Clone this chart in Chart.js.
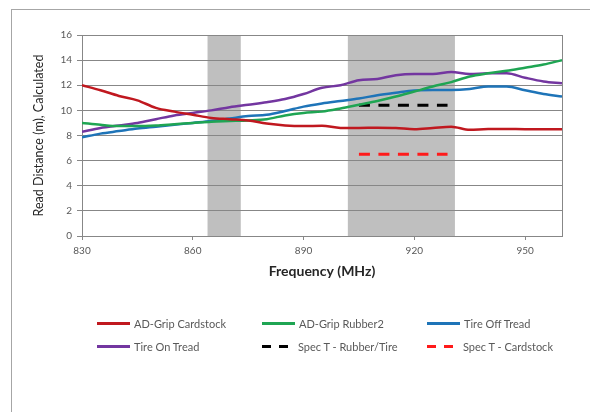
<!DOCTYPE html>
<html>
<head>
<meta charset="utf-8">
<script src="https://cdn.jsdelivr.net/npm/chart.js@4.4.0/dist/chart.umd.min.js"></script>
<style>
  html, body { margin: 0; padding: 0; background: #fff; }
  #wrap { position: relative; width: 590px; height: 412px; overflow: hidden; font-family: Lato, sans-serif; }
  #frame { position: absolute; left: 11px; top: 9px; width: 700px; height: 500px; border-left: 1px solid #a6a6a6; border-top: 1px solid #a6a6a6; }
  #chart { position: absolute; left: 0; top: 0; }
  #legend { position: absolute; left: 97px; top: 315px; display: grid; grid-template-columns: 165px 165px 165px; row-gap: 7px; }
  .item { display: flex; align-items: center; height: 16px; font-size: 11px; color: #595959; }
  .sw { position: relative; width: 33px; height: 3px; margin-right: 4px; }
  .sw div { position: absolute; top: 0; height: 3px; }
</style>
</head>
<body>
<div id="wrap">
  <div id="frame"></div>
  <canvas id="chart" width="590" height="412"></canvas>
  <div id="legend"></div>
</div>
<script>
// frequencies (MHz)
const freq = [830, 835, 840, 845, 850, 855, 860, 865, 870, 875, 880, 885, 890, 895, 900,
              905, 910, 915, 920, 925, 930, 935, 940, 945, 950, 955, 960];

const cardstock = [12.0, 11.6, 11.15, 10.8, 10.2, 9.9, 9.65, 9.4, 9.3, 9.2, 8.95, 8.8, 8.75, 8.78, 8.6,
                   8.6, 8.62, 8.6, 8.5, 8.6, 8.7, 8.45, 8.52, 8.52, 8.5, 8.5, 8.5];
const rubber2 = [9.0, 8.85, 8.75, 8.75, 8.8, 8.9, 9.0, 9.1, 9.15, 9.2, 9.3, 9.6, 9.8, 9.9, 10.15,
                 10.45, 10.75, 11.1, 11.5, 11.9, 12.25, 12.7, 12.95, 13.15, 13.4, 13.65, 14.0];
const tireOff = [7.85, 8.15, 8.35, 8.55, 8.7, 8.85, 9.0, 9.15, 9.35, 9.55, 9.65, 9.95, 10.3, 10.55, 10.75,
                 10.95, 11.2, 11.4, 11.58, 11.62, 11.62, 11.7, 11.9, 11.9, 11.6, 11.3, 11.1];
const tireOn = [8.3, 8.6, 8.8, 9.0, 9.3, 9.6, 9.8, 10.0, 10.25, 10.45, 10.65, 10.9, 11.3, 11.8, 12.0,
                12.4, 12.5, 12.8, 12.9, 12.9, 13.05, 12.9, 12.95, 12.95, 12.6, 12.3, 12.15];

// spec lines
const specFreq = [905, 929];
const specRubber = [10.4, 10.4];
const specCard = [6.5, 6.5];

// shaded frequency bands
const bandStart = [864, 902];
const bandEnd = [873, 931];

const xTicks = [830, 860, 890, 920, 950];

const pts = (xs, ys) => xs.map((x, i) => ({ x: x, y: ys[i] }));

const series = [
    { label: 'AD-Grip Cardstock', data: pts(freq, cardstock), color: '#c0181f' },
    { label: 'AD-Grip Rubber2', data: pts(freq, rubber2), color: '#1fa553' },
    { label: 'Tire Off Tread', data: pts(freq, tireOff), color: '#1e74b8' },
    { label: 'Tire On Tread', data: pts(freq, tireOn), color: '#7336a0' },
    { label: 'Spec T - Rubber/Tire', data: pts(specFreq, specRubber), color: '#000000', dash: true },
    { label: 'Spec T - Cardstock', data: pts(specFreq, specCard), color: '#ff1a1a', dash: true },
];

const bandsPlugin = {
    id: 'bands',
    beforeDraw(chart) {
        const { ctx, chartArea, scales } = chart;
        ctx.save();
        ctx.fillStyle = '#bfbfbf';
        for (let i = 0; i < bandStart.length; i++) {
            const x1 = scales.x.getPixelForValue(bandStart[i]);
            const x2 = scales.x.getPixelForValue(bandEnd[i]);
            ctx.fillRect(x1, chartArea.top, x2 - x1, chartArea.bottom - chartArea.top);
        }
        ctx.restore();
    },
    afterDatasetsDraw(chart) {
        // right edge of the plot box
        const { ctx, chartArea } = chart;
        ctx.save();
        ctx.strokeStyle = '#878787';
        ctx.lineWidth = 1;
        ctx.beginPath();
        ctx.moveTo(Math.round(chartArea.right) + 0.5, chartArea.top);
        ctx.lineTo(Math.round(chartArea.right) + 0.5, chartArea.bottom);
        ctx.stroke();
        ctx.restore();
    }
};

Chart.defaults.font.family = 'Lato, sans-serif';

const chart = new Chart(document.getElementById('chart'), {
    type: 'line',
    data: {
        datasets: series.map((s) => ({
            label: s.label,
            data: s.data,
            borderColor: s.color,
            backgroundColor: s.color,
            borderWidth: s.dash ? 3 : 2.5,
            borderDash: s.dash ? [11, 8.5] : [],
            pointRadius: 0,
            cubicInterpolationMode: 'monotone',
            fill: false,
        })),
    },
    options: {
        responsive: false,
        animation: false,
        layout: { padding: { left: 24, top: 35, right: 28, bottom: 131 } },
        plugins: { legend: { display: false }, tooltip: { enabled: false } },
        scales: {
            x: {
                type: 'linear',
                min: 830,
                max: 960,
                afterBuildTicks: (axis) => { axis.ticks = xTicks.map((v) => ({ value: v })); },
                afterFit: (axis) => { axis.height = 45; },
                grid: { drawOnChartArea: false, drawTicks: true, tickLength: 4, color: '#878787' },
                border: { color: '#878787' },
                ticks: { font: { size: 10 }, color: '#595959', padding: 5, maxRotation: 0 },
                title: { display: true, text: 'Frequency (MHz)', font: { size: 14, weight: 'bold' }, color: '#262626', padding: { bottom: 1 } },
            },
            y: {
                min: 0,
                max: 16,
                ticks: { stepSize: 2, font: { size: 10 }, color: '#595959', padding: 5 },
                afterFit: (axis) => { axis.width = 58; },
                grid: { color: '#878787', tickLength: 5 },
                border: { color: '#878787' },
                title: { display: true, text: 'Read Distance (m), Calculated', font: { size: 12.5 }, color: '#262626', padding: { top: 7 } },
            },
        },
    },
    plugins: [bandsPlugin],
});

// legend in three columns, built from the chart's datasets
const legend = document.getElementById('legend');
series.forEach((s) => {
    const item = document.createElement('div');
    item.className = 'item';
    const sw = document.createElement('div');
    sw.className = 'sw';
    const parts = s.dash ? [[0, 9], [17, 9]] : [[0, 33]];
    parts.forEach(([l, w]) => {
        const d = document.createElement('div');
        d.style.left = l + 'px';
        d.style.width = w + 'px';
        d.style.background = s.color;
        sw.appendChild(d);
    });
    item.appendChild(sw);
    const txt = document.createElement('span');
    txt.textContent = s.label;
    if (s.dash) txt.style.marginLeft = '-1px';
    item.appendChild(txt);
    legend.appendChild(item);
});
</script>
</body>
</html>
